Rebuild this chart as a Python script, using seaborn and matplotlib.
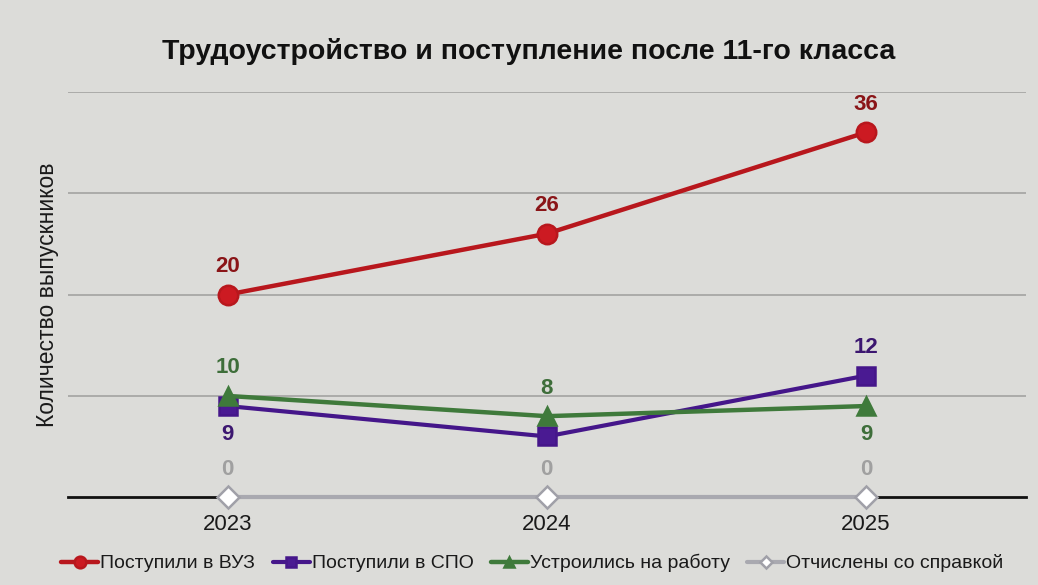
import matplotlib
matplotlib.use("Agg")
import matplotlib.pyplot as plt
import seaborn as sns
import pandas as pd

years = ["2023", "2024", "2025"]
series_names = ["Поступили в ВУЗ", "Поступили в СПО", "Устроились на работу", "Отчислены со справкой"]
vuz = [20, 26, 36]
spo = [9, 6, 12]
work = [10, 8, 9]
expelled = [0, 0, 0]
title = "Трудоустройство и поступление после 11-го класса"
ylabel = "Количество выпускников"

sns.set_theme(style="white")
plt.rcParams["font.family"] = ["Liberation Sans", "DejaVu Sans"]

bg = "#dcdcd9"
fig = plt.figure(figsize=(10.38, 5.85), dpi=100, facecolor=bg)
ax = fig.add_axes([0.0655, 0.150, 0.9225, 0.693])
ax.set_facecolor(bg)

styles = [
    (vuz, "#b8171d", "o", "#cc1a22", "#b8171d", 14, 3.2, "#8a1518", [1, 1, 1]),
    (spo, "#45168a", "s", "#4a1a92", "#45168a", 13, 3.0, "#3c1770", [-1, 0, 1]),
    (work, "#3f7a3b", "^", "#3f7a3b", "#3f7a3b", 13, 3.2, "#3e6e3a", [1, 1, -1]),
    (expelled, "#a9a9b0", "D", "#ffffff", "#a0a0a8", 11, 3.0, "#a0a0a0", [1, 1, 1]),
]

x = list(range(len(years)))
for name, (vals, lc, mk, mfc, mec, ms, lw, tc, pos) in zip(series_names, styles):
    df = pd.DataFrame({"x": x, "y": vals})
    sns.lineplot(data=df, x="x", y="y", ax=ax, color=lc, linewidth=lw, marker=mk,
                 markersize=ms, markerfacecolor=mfc, markeredgecolor=mec,
                 markeredgewidth=1.8, label=name, zorder=3, clip_on=False)
    for xi, v, p in zip(x, vals, pos):
        if p == 0:
            continue
        ax.annotate(str(v), (xi, v), xytext=(0, 28 * p), textcoords="offset pixels",
                    ha="center", va="center", fontsize=16, fontweight="bold", color=tc, zorder=4)

ax.set_xlim(-0.5, 2.5)
ax.set_ylim(0, 40)
ax.set_yticks([10, 20, 30, 40])
ax.yaxis.grid(True, color="#a3a3a1", linewidth=1.2)
ax.set_yticklabels([])
ax.tick_params(axis="y", length=0)
ax.set_xticks(x)
ax.set_xticklabels(years, fontsize=16, color="#1a1a1a")
ax.tick_params(axis="x", length=0, pad=12)
ax.set_xlabel("")
ax.set_ylabel(ylabel, fontsize=16.5, color="#1a1a1a", labelpad=3)
for s in ["top", "right", "left"]:
    ax.spines[s].set_visible(False)
ax.spines["bottom"].set_color("#111111")
ax.spines["bottom"].set_linewidth(2)
ax.spines["bottom"].set_zorder(2)

fig.text(0.509, 0.912, title, ha="center", va="center", fontsize=20.5, fontweight="bold", color="#111111")

leg = ax.legend(loc="center", bbox_to_anchor=(0.485, -0.163), ncol=4, frameon=False,
                fontsize=14, handlelength=1.9, handletextpad=0.1, columnspacing=0.9,
                markerscale=0.6)
for t in leg.get_texts():
    t.set_color("#1a1a1a")

fig.savefig("out.png", dpi=100, facecolor=bg)
